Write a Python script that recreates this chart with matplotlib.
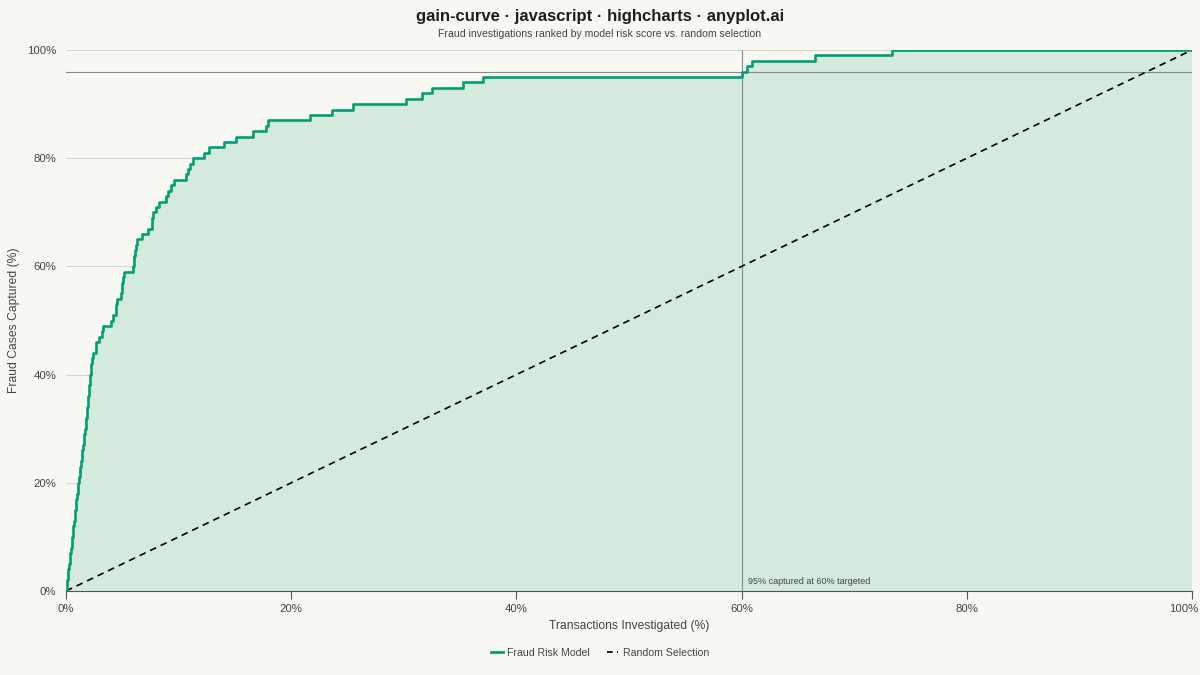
import matplotlib
matplotlib.use('Agg')
import matplotlib.pyplot as plt
import matplotlib.transforms as mtransforms
from matplotlib.lines import Line2D

# gain curve: x where each capture level starts (steps-post)
model_x = [0.00, 0.05, 0.10, 0.16, 0.21, 0.27, 0.32, 0.38, 0.43, 0.49, 0.54,
           0.60, 0.65, 0.71, 0.76, 0.82, 0.87, 0.93, 0.98, 1.04, 1.10,
           1.15, 1.21, 1.27, 1.33, 1.40, 1.46, 1.52, 1.58, 1.64, 1.70,
           1.75, 1.80, 1.84, 1.89, 1.94, 1.98, 2.03, 2.08, 2.12, 2.17,
           2.22, 2.26, 2.31, 2.36, 2.70, 2.96, 3.20, 3.26, 3.97, 4.20, 4.40,
           4.48, 4.56, 4.88, 4.95, 5.05, 5.18, 5.92, 6.00, 6.05, 6.10, 6.20, 6.35,
           6.50, 6.75, 7.31, 7.60, 7.68, 7.75, 8.00, 8.26, 8.88, 9.05, 9.30, 9.59,
           10.66, 10.85, 11.00, 11.30, 12.26, 12.73, 14.03, 15.07, 16.58, 17.73,
           17.91, 21.67, 23.65, 25.46, 30.20, 31.60, 32.50, 35.30, 37.00, 60.00,
           60.50, 60.90, 66.50, 73.40, 100.0]
model_y = [0, 1, 2, 3, 4, 5, 6, 7, 8, 9, 10,
           11, 12, 13, 14, 15, 16, 17, 18, 19, 20,
           21, 22, 23, 24, 25, 26, 27, 28, 29, 30,
           31, 32, 33, 34, 35, 36, 37, 38, 39, 40,
           41, 42, 43, 44, 46, 47, 48, 49, 50, 51, 52,
           53, 54, 55, 57, 58, 59, 60, 61, 62, 63, 64, 65,
           65, 66, 67, 68, 69, 70, 71, 72, 73, 74, 75, 76,
           77, 78, 79, 80, 81, 82, 83, 84, 85, 86,
           87, 88, 89, 90, 91, 92, 93, 94, 95, 96,
           97, 98, 99, 100, 100]

random_x = [0, 100]
random_y = [0, 100]

target_x = 60
target_y = 96
ticks = [0, 20, 40, 60, 80, 100]
tick_labels = ['0%', '20%', '40%', '60%', '80%', '100%']

bg = '#faf8f2'
green = '#009e73'
txt = '#444444'

plt.rcParams['font.family'] = ['Liberation Sans', 'DejaVu Sans']

fig = plt.figure(figsize=(12, 6.75), dpi=100, facecolor=bg)
ax = fig.add_axes([0.055, 0.1244, 0.9383, 0.8015], facecolor=bg)

ax.fill_between(model_x, model_y, step='post', color='#d4eadd', linewidth=0, zorder=1)
ax.plot(model_x, model_y, drawstyle='steps-post', color=green, linewidth=1.9, zorder=4)
ax.plot(random_x, random_y, color='black', linestyle=(0, (4, 3)), linewidth=1.2, zorder=3)

# reference lines at the 60% target
ax.axvline(target_x, color='#8a8a8a', linewidth=0.8, zorder=2)
ax.axhline(target_y, color='#8a8a8a', linewidth=0.8, zorder=2)
ax.text(target_x + 0.6, 1.3, '95% captured at 60% targeted', fontsize=6.5, color=txt, zorder=5)

ax.set_xlim(0, 100)
ax.set_ylim(0, 100)
ax.set_xticks(ticks)
ax.set_xticklabels(tick_labels)
ax.set_yticks(ticks)
ax.set_yticklabels(tick_labels)
ax.tick_params(axis='x', colors=txt, labelsize=8.2, length=6, width=0.8, color='#555555', pad=3)
ax.tick_params(axis='y', colors=txt, labelsize=8.2, length=0, pad=7)
# keep the last x label inside the figure, like highcharts does
last = ax.get_xticklabels()[-1]
last.set_transform(last.get_transform() + mtransforms.ScaledTranslation(-0.08, 0, fig.dpi_scale_trans))
ax.grid(axis='y', color='#d6d6d0', linewidth=0.8, zorder=0)
ax.set_axisbelow(True)
for s in ['top', 'right', 'left']:
    ax.spines[s].set_visible(False)
ax.spines['bottom'].set_color('#555555')
ax.spines['bottom'].set_linewidth(0.8)
ax.spines['bottom'].set_zorder(6)

ax.set_xlabel('Transactions Investigated (%)', fontsize=8.7, color=txt, labelpad=5)
ax.set_ylabel('Fraud Cases Captured (%)', fontsize=8.7, color=txt, labelpad=5)

fig.text(0.5, 0.975, 'gain-curve · javascript · highcharts · anyplot.ai', ha='center', va='center',
         fontsize=12, fontweight='bold', color='#1e1e1e')
fig.text(0.5, 0.949, 'Fraud investigations ranked by model risk score vs. random selection',
         ha='center', va='center', fontsize=7.6, color=txt)

handles = [Line2D([], [], color=green, linewidth=2.0),
           Line2D([], [], color='black', linestyle=(0, (3.5, 2.5, 1, 2.5)), linewidth=1.2)]
fig.legend(handles, ['Fraud Risk Model', 'Random Selection'], loc='center', bbox_to_anchor=(0.5, 0.033),
           ncol=2, frameon=False, fontsize=7.6, handlelength=1.1, handletextpad=0.4, columnspacing=1.6,
           labelcolor=txt)

fig.savefig('out.png', dpi=100, facecolor=bg)
